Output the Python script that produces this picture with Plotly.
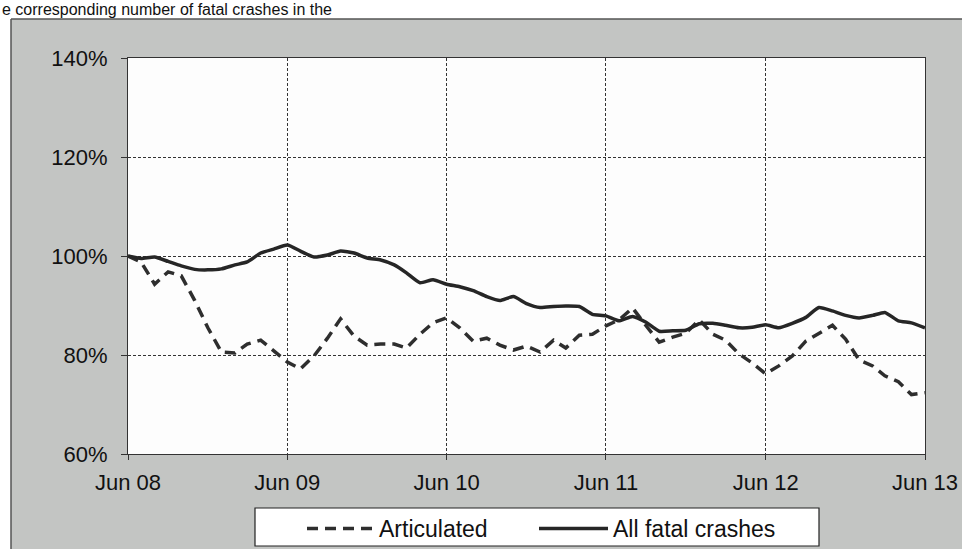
import pandas as pd
import plotly.graph_objects as go

# ---- data ----
months = pd.date_range("2008-06-01", periods=61, freq="MS")

articulated = [100.0, 98.8, 94.3, 96.8, 96.0, 91.0, 85.5, 80.6, 80.4, 82.2,
               83.0, 80.8, 78.6, 77.2, 79.8, 83.4, 87.3, 83.8, 82.0, 82.2,
               82.2, 81.4, 84.2, 86.5, 87.5, 85.5, 82.8, 83.4, 82.0, 81.0,
               81.8, 80.6, 83.0, 81.4, 84.0, 84.2, 85.9, 87.1, 89.5, 85.9,
               82.6, 83.6, 84.4, 87.1, 84.2, 83.0, 80.2, 78.4, 76.2, 77.8,
               79.8, 82.8, 84.4, 86.0, 83.2, 79.0, 77.8, 75.8, 74.6, 72.0,
               72.4]

all_fatal = [100.0, 99.5, 99.8, 98.9, 98.0, 97.3, 97.2, 97.4, 98.2, 98.8,
             100.6, 101.4, 102.2, 101.0, 99.8, 100.2, 101.0, 100.6, 99.6, 99.2,
             98.2, 96.6, 94.6, 95.2, 94.3, 93.8, 93.0, 91.8, 91.0, 91.8,
             90.4, 89.6, 89.8, 89.9, 89.8, 88.2, 87.9, 86.9, 87.8, 86.6,
             84.8, 84.9, 85.0, 86.3, 86.4, 86.0, 85.5, 85.6, 86.1, 85.5,
             86.4, 87.6, 89.6, 88.9, 88.0, 87.5, 88.0, 88.6, 86.9, 86.5,
             85.5]

tick_dates = ["2008-06-01", "2009-06-01", "2010-06-01", "2011-06-01",
              "2012-06-01", "2013-06-01"]
tick_labels = ["Jun 08", "Jun 09", "Jun 10", "Jun 11", "Jun 12", "Jun 13"]
y_ticks = [60, 80, 100, 120, 140]
y_tick_labels = ["60%", "80%", "100%", "120%", "140%"]

FONT = "Arial, 'Liberation Sans', Helvetica, sans-serif"
GREY = "#c3c5c3"

fig = go.Figure()
fig.add_trace(go.Scatter(
    x=months, y=articulated, name="Articulated", mode="lines",
    line=dict(color="#2e2e2e", width=3.5, dash="11px,7px"),
    legend="legend",
))
fig.add_trace(go.Scatter(
    x=months, y=all_fatal, name="All fatal crashes", mode="lines",
    line=dict(color="#262626", width=3.5, shape="spline", smoothing=0.5),
    legend="legend2",
))

# plot area geometry (pixels): x 128..925, y 58..454
L, R, T, B = 128, 925, 58, 454
W, H = R - L, B - T


def px(x):
    return (x - L) / W


def py(y):
    return (B - y) / H


shapes = [
    # white page strip above and left of the grey chart box
    dict(type="rect", xref="paper", yref="paper", x0=-0.3, x1=1.2,
         y0=py(19), y1=1.3, fillcolor="white", line=dict(width=0), layer="below"),
    dict(type="rect", xref="paper", yref="paper", x0=-0.3, x1=px(11),
         y0=-0.4, y1=1.3, fillcolor="white", line=dict(width=0), layer="below"),
    # chart box border
    dict(type="line", xref="paper", yref="paper", x0=px(11), x1=1.2,
         y0=py(19), y1=py(19), line=dict(color="#555555", width=1.5)),
    dict(type="line", xref="paper", yref="paper", x0=px(11), x1=px(11),
         y0=-0.4, y1=py(19), line=dict(color="#555555", width=1.5)),
    # legend box
    dict(type="rect", xref="paper", yref="paper", x0=px(255), x1=px(819),
         y0=py(546), y1=py(508), fillcolor="white",
         line=dict(color="#222222", width=1.2), layer="below"),
]

legend_font = dict(family=FONT, size=23, color="#111111")

fig.update_layout(
    template="none",
    width=962, height=549,
    margin=dict(l=L, r=962 - R, t=T, b=549 - B, autoexpand=False),
    paper_bgcolor=GREY,
    plot_bgcolor="#fdfdfd",
    font=dict(family=FONT, size=22, color="#111111"),
    shapes=shapes,
    showlegend=True,
    legend=dict(
        orientation="h", x=px(302), xanchor="left", y=py(507), yanchor="top",
        bgcolor="rgba(0,0,0,0)", borderwidth=0, font=legend_font,
        itemwidth=67,
    ),
    legend2=dict(
        orientation="h", x=px(534), xanchor="left", y=py(507), yanchor="top",
        bgcolor="rgba(0,0,0,0)", borderwidth=0, font=legend_font,
        itemwidth=69,
    ),
    annotations=[
        dict(text="e corresponding number of fatal crashes in the",
             xref="paper", yref="paper", x=px(0), y=py(9),
             xanchor="left", yanchor="middle", showarrow=False,
             font=dict(family=FONT, size=16, color="#111111")),
    ],
)

fig.update_xaxes(
    range=["2008-06-01", "2013-06-01"],
    tickvals=tick_dates, ticktext=tick_labels,
    showgrid=True, gridcolor="#333333", gridwidth=1, griddash="3px,2px",
    showline=True, linecolor="#333333", linewidth=1, mirror=True,
    ticks="outside", ticklen=5, tickcolor="#333333",
    ticklabelstandoff=4, automargin=False,
    tickfont=dict(size=22, family=FONT, color="#111111"),
    zeroline=False,
)
fig.update_yaxes(
    range=[60, 140], tickvals=y_ticks, ticktext=y_tick_labels,
    showgrid=True, gridcolor="#333333", gridwidth=1, griddash="3px,2px",
    showline=True, linecolor="#333333", linewidth=1, mirror=True,
    ticks="outside", ticklen=6, tickcolor="#333333",
    ticklabelstandoff=9, automargin=False,
    tickfont=dict(size=22, family=FONT, color="#111111"),
    zeroline=False,
)

fig.write_html("out.html", config={"displayModeBar": False})

# remove the browser's default 8px body margin so the figure sits at (0, 0)
with open("out.html", encoding="utf-8") as f:
    html = f.read()
html = html.replace("<body>", '<body style="margin:0;overflow:hidden;">', 1)
with open("out.html", "w", encoding="utf-8") as f:
    f.write(html)
